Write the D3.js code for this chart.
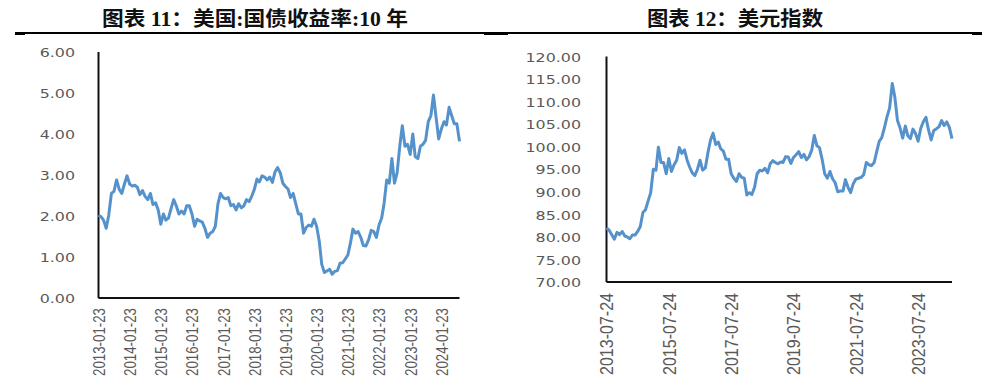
<!DOCTYPE html>
<html>
<head>
<meta charset="utf-8">
<script src="https://cdn.jsdelivr.net/npm/d3@7"></script>
<style>
  body { margin: 0; background: #fff; }
</style>
</head>
<body>
<div id="chart"></div>
<script>
// 美国10年期国债收益率，月度读数，自 2013-01-23 起
var yieldStart = "2013-01-23"
var yieldValues = [
  2.02, 1.98, 1.90, 1.70, 2.02, 2.55, 2.60, 2.88, 2.65, 2.55, 2.78, 2.98,
  2.78, 2.73, 2.75, 2.70, 2.52, 2.62, 2.48, 2.40, 2.55, 2.28, 2.32, 2.15,
  1.80, 2.05, 1.90, 1.95, 2.18, 2.40, 2.25, 2.05, 2.12, 2.05, 2.25, 2.25,
  2.05, 1.75, 1.92, 1.88, 1.85, 1.70, 1.48, 1.58, 1.62, 1.75, 2.30, 2.55,
  2.45, 2.42, 2.45, 2.25, 2.28, 2.15, 2.30, 2.20, 2.25, 2.40, 2.35, 2.48,
  2.65, 2.90, 2.83, 2.98, 2.95, 2.88, 2.95, 2.82, 3.08, 3.18, 3.05, 2.80,
  2.72, 2.65, 2.45, 2.55, 2.30, 2.05, 2.05, 1.58, 1.72, 1.78, 1.75, 1.92,
  1.75, 1.38, 0.82, 0.62, 0.66, 0.70, 0.58, 0.65, 0.67, 0.85, 0.86, 0.95,
  1.05, 1.35, 1.68, 1.58, 1.62, 1.48, 1.28, 1.27, 1.42, 1.65, 1.62, 1.48,
  1.78, 1.95, 2.30, 2.88, 2.80, 3.40, 2.80, 3.05, 3.70, 4.20, 3.70, 3.75,
  3.50, 4.00, 3.45, 3.40, 3.70, 3.75, 3.85, 4.30, 4.45, 4.95, 4.40, 3.88,
  4.12, 4.30, 4.22, 4.65, 4.45, 4.25, 4.25, 3.82
]
var yieldXTicks = ["2013-01-23", "2014-01-23", "2015-01-23", "2016-01-23", "2017-01-23", "2018-01-23",
  "2019-01-23", "2020-01-23", "2021-01-23", "2022-01-23", "2023-01-23", "2024-01-23"]
var yieldYTicks = [0, 1, 2, 3, 4, 5, 6]

// 美元指数，月度读数，自 2013-07-24 起
var dxyStart = "2013-07-24"
var dxyValues = [
  82.0, 81.5, 80.5, 79.5, 81.0, 80.5,
  81.2, 80.2, 80.0, 79.6, 80.4, 80.4, 81.2, 82.3, 85.4, 86.0, 88.0, 89.8,
  95.0, 94.8, 99.9, 96.5, 96.5, 94.0, 97.4, 94.5, 96.0, 97.0, 99.8, 98.5,
  99.3, 97.0, 95.5, 94.2, 93.6, 95.0, 97.0, 94.8, 95.3, 98.6, 101.5, 103.0,
  100.5, 101.0, 99.5, 99.0, 97.2, 97.2, 94.0, 93.0, 92.3, 94.0, 93.2, 93.0,
  89.3, 89.8, 89.4, 91.0, 94.0, 94.8, 94.6, 95.2, 94.2, 96.2, 96.9, 96.5,
  96.2, 96.6, 96.5, 97.8, 97.7, 96.3, 97.6, 98.2, 98.9, 97.6, 98.3, 97.1,
  97.8, 99.3, 102.5, 100.2, 99.8, 97.2, 94.0, 93.0, 94.5, 92.9, 92.0, 90.0,
  90.2, 90.2, 92.7, 91.0, 89.8, 91.8, 92.8, 93.0, 93.2, 93.8, 96.5, 96.0,
  95.8, 96.5, 98.8, 101.2, 102.0, 104.2, 106.6, 108.6, 114.0, 111.0, 105.8, 104.2,
  101.9, 104.6, 102.5, 101.8, 103.9, 102.9, 101.2, 104.1, 105.6, 106.5, 103.6, 101.5,
  103.6, 104.0, 104.4, 105.8, 104.7, 105.5, 104.3, 101.8
]
var dxyXTicks = ["2013-07-24", "2015-07-24", "2017-07-24", "2019-07-24", "2021-07-24", "2023-07-24"]
var dxyYTicks = [70, 75, 80, 85, 90, 95, 100, 105, 110, 115, 120]

var svgw = 991
var svgh = 390
var lineColor = '#5592cc'
var parse = d3.timeParse('%Y-%m-%d')

var svg = d3.select('#chart').append('svg')
    .attr('width', svgw)
    .attr('height', svgh)
    .style('font-family', '"DejaVu Sans", sans-serif')

// 标题与分隔线
function title(cx, txt, len){
  svg.append('text')
    .attr('x', cx)
    .attr('y', 26)
    .attr('text-anchor', 'middle')
    .style('font-family', '"Liberation Serif", "Noto Sans CJK SC", serif')
    .style('font-weight', 'bold')
    .style('font-size', '20px')
    .attr('fill', '#111')
    .attr('textLength', len)
    .attr('lengthAdjust', 'spacingAndGlyphs')
    .text(txt)
}
title(255, '图表 11：美国:国债收益率:10 年', 306)
title(735, '图表 12：美元指数', 176)

svg.append('rect').attr('x', 15).attr('y', 32).attr('width', 480).attr('height', 2).attr('fill', '#000')
svg.append('rect').attr('x', 495).attr('y', 32).attr('width', 487).attr('height', 2).attr('fill', '#000')
;[[15, 25], [484, 508], [972, 982]].forEach(function(s){
  svg.append('rect').attr('x', s[0]).attr('y', 32).attr('width', s[1] - s[0]).attr('height', 3).attr('fill', '#000')
})

function panel(o){
  var start = parse(o.start)
  var data = o.values.map(function(v, i){
    return {date: d3.timeMonth.offset(start, i), v: v}
  })
  var x = d3.scaleTime()
      .domain([start, data[data.length - 1].date])
      .range([o.left, o.right])
  var y = d3.scaleLinear()
      .domain([o.yTicks[0], o.yTicks[o.yTicks.length - 1]])
      .range([o.bottom, o.top])

  var g = svg.append('g')

  // y 轴文字
  var ya = g.append('g')
      .attr('transform', 'translate(' + o.left + ',0)')
      .call(d3.axisLeft(y).tickValues(o.yTicks).tickSize(0).tickPadding(0)
        .tickFormat(d3.format('.2f')))
  ya.select('.domain').remove()
  ya.selectAll('text')
      .attr('x', 0)
      .attr('dy', '0.36em')
      .attr('transform', 'translate(' + (o.labelRight - o.left) + ',0) scale(1.22,1)')
      .attr('fill', '#595959')
      .style('font-family', '"DejaVu Sans", sans-serif')
      .style('font-size', '13px')

  // x 轴文字
  var xa = g.append('g')
      .attr('transform', 'translate(0,' + o.bottom + ')')
      .call(d3.axisBottom(x).tickValues(o.xTicks.map(parse)).tickSize(0)
        .tickFormat(d3.timeFormat('%Y-%m-%d')))
  xa.select('.domain').remove()
  xa.selectAll('text')
      .attr('x', 0).attr('y', 0).attr('dy', '0.35em')
      .attr('text-anchor', 'end')
      .attr('transform', 'translate(0,' + o.xGap + ') rotate(-90)')
      .attr('fill', '#595959')
      .style('font-family', '"Liberation Sans", Arial, sans-serif')
      .style('font-size', o.xFont + 'px')
      .attr('textLength', o.xLen)
      .attr('lengthAdjust', 'spacingAndGlyphs')

  // 坐标轴线
  g.append('line')
      .attr('x1', o.left).attr('x2', o.left)
      .attr('y1', o.top).attr('y2', o.bottom)
      .attr('stroke', '#111').attr('stroke-width', 2)
  g.append('line')
      .attr('x1', o.left).attr('x2', o.right)
      .attr('y1', o.bottom).attr('y2', o.bottom)
      .attr('stroke', '#111').attr('stroke-width', 2)

  var line = d3.line()
      .x(function(d){ return x(d.date) })
      .y(function(d){ return y(d.v) })
  g.append('path')
      .datum(data)
      .attr('d', line)
      .attr('fill', 'none')
      .attr('stroke', lineColor)
      .attr('stroke-width', 3)
      .attr('stroke-linejoin', 'round')
}

panel({
  start: yieldStart, values: yieldValues, xTicks: yieldXTicks, yTicks: yieldYTicks,
  left: 98.5, right: 459.5, top: 52, bottom: 298, labelRight: 75,
  xGap: 10, xFont: 17, xLen: 68
})
panel({
  start: dxyStart, values: dxyValues, xTicks: dxyXTicks, yTicks: dxyYTicks,
  left: 606.5, right: 952, top: 56.5, bottom: 282, labelRight: 581,
  xGap: 11, xFont: 18, xLen: 82
})
</script>
</body>
</html>
